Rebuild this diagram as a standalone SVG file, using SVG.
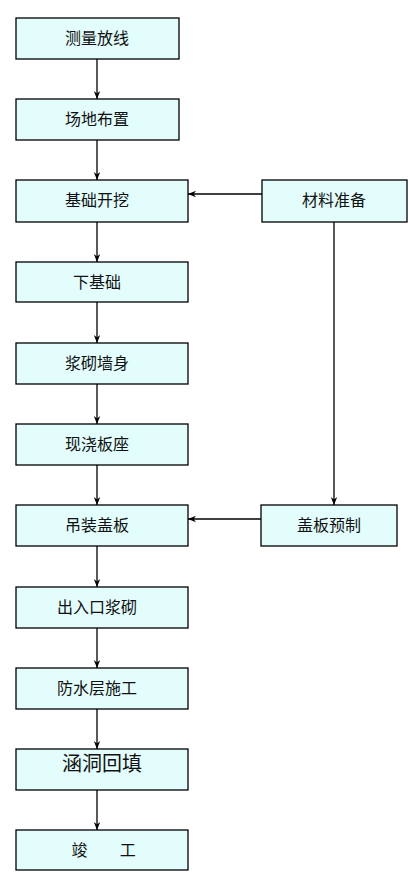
<svg xmlns="http://www.w3.org/2000/svg" width="408" height="875" viewBox="0 0 408 875">
<style>
.box{fill:#e3fcfc;stroke:#000;stroke-width:1.3}
.t{font-family:"Liberation Sans","Noto Sans CJK SC",sans-serif;font-size:16px;fill:#111;text-anchor:middle;dominant-baseline:central}
.big{font-family:"Liberation Serif","Noto Sans CJK SC",serif;font-size:20px}
.c{stroke:#000;stroke-width:1.3;fill:none;marker-end:url(#ah)}
</style>
<defs>
<marker id="ah" viewBox="0 0 10 10" refX="10" refY="5" markerWidth="8" markerHeight="8" markerUnits="userSpaceOnUse" orient="auto">
<path d="M0,1 L10,5 L0,9 L3,5 Z" fill="#000"/>
</marker>
</defs>
<rect width="408" height="875" fill="#fff"/>
<g id="connectors">
<line class="c" x1="97" y1="59" x2="97" y2="99"/>
<line class="c" x1="97" y1="140" x2="97" y2="180"/>
<line class="c" x1="97" y1="222" x2="97" y2="262"/>
<line class="c" x1="97" y1="302" x2="97" y2="343"/>
<line class="c" x1="97" y1="384" x2="97" y2="424"/>
<line class="c" x1="97" y1="465" x2="97" y2="505"/>
<line class="c" x1="97" y1="546" x2="97" y2="587"/>
<line class="c" x1="97" y1="628" x2="97" y2="668"/>
<line class="c" x1="97" y1="709" x2="97" y2="749"/>
<line class="c" x1="97" y1="790" x2="97" y2="830"/>
<line class="c" x1="262" y1="194" x2="188" y2="194"/>
<line class="c" x1="261" y1="519" x2="188" y2="519"/>
<line class="c" x1="334" y1="222" x2="334" y2="505"/>
</g>
<g id="n1"><rect class="box" x="16" y="18" width="163" height="41"/><text class="t" x="97" y="38.5">测量放线</text></g>
<g id="n2"><rect class="box" x="16" y="99" width="163" height="41"/><text class="t" x="97" y="119.5">场地布置</text></g>
<g id="n3"><rect class="box" x="16" y="180" width="172" height="42"/><text class="t" x="97" y="200">基础开挖</text></g>
<g id="n4"><rect class="box" x="16" y="262" width="172" height="40"/><text class="t" x="97" y="282">下基础</text></g>
<g id="n5"><rect class="box" x="16" y="343" width="172" height="41"/><text class="t" x="97" y="363.5">浆砌墙身</text></g>
<g id="n6"><rect class="box" x="16" y="424" width="172" height="41"/><text class="t" x="97" y="444.5">现浇板座</text></g>
<g id="n7"><rect class="box" x="16" y="505" width="172" height="41"/><text class="t" x="97" y="525.5">吊装盖板</text></g>
<g id="n8"><rect class="box" x="16" y="587" width="172" height="41"/><text class="t" x="97" y="607.5">出入口浆砌</text></g>
<g id="n9"><rect class="box" x="16" y="668" width="172" height="41"/><text class="t" x="97" y="688.5">防水层施工</text></g>
<g id="n10"><rect class="box" x="16" y="749" width="172" height="41"/><text class="t big" x="102" y="764">涵洞回填</text></g>
<g id="n11"><rect class="box" x="16" y="830" width="172" height="40"/><text class="t" y="850"><tspan x="79.5">竣</tspan><tspan x="125.5"> 工</tspan></text></g>
<g id="n12"><rect class="box" x="262" y="180" width="145" height="42"/><text class="t" x="334" y="200">材料准备</text></g>
<g id="n13"><rect class="box" x="261" y="505" width="136" height="41"/><text class="t" x="329" y="525.5">盖板预制</text></g>
</svg>
